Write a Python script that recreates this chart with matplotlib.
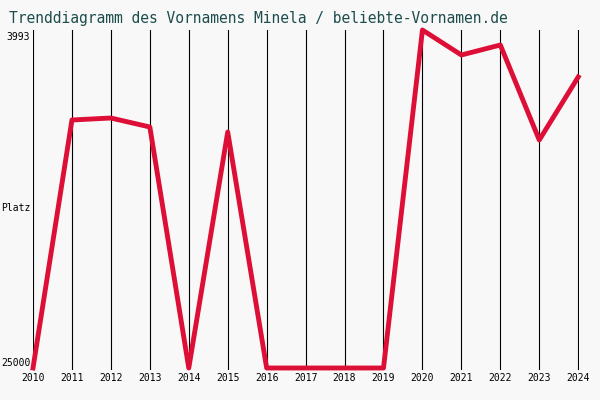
import matplotlib.pyplot as plt

years = list(range(2010, 2025))
ranks = [25000, 9019, 8891, 9470, 25000, 9793, 25000, 25000, 25000, 25000,
         3220, 4831, 4186, 10308, 6248]

plt.rcParams["font.family"] = "DejaVu Sans Mono"

fig = plt.figure(figsize=(6, 4), dpi=100, facecolor="#f8f8f8")
ax = fig.add_axes([0.055, 0.075, 0.91, 0.85])
ax.set_facecolor("#f8f8f8")

for yr in years:
    ax.axvline(yr, color="black", linewidth=0.8, zorder=1)

ax.plot(years, ranks, color="#dd0f37", linewidth=3.5, zorder=3, clip_on=False)

ax.set_xlim(2010, 2024.02)
ax.set_ylim(25129, 3220)
ax.set_yticks([3993, 25000])
ax.set_yticklabels(["3993", "25000"], fontsize=7)
for lbl in ax.get_yticklabels():
    lbl.set_va("bottom")
ax.set_xticks(years)
ax.set_xticklabels([str(y) for y in years], fontsize=7)
ax.tick_params(length=0, pad=2)
fig.text(0.002, 0.48, "Platz", fontsize=7, ha="left", va="center")
for s in ax.spines.values():
    s.set_visible(False)

fig.text(0.015, 0.955, "Trenddiagramm des Vornamens Minela / beliebte-Vornamen.de",
         fontsize=10.5, color="#1e4d4d", va="center")

fig.savefig("out.png", dpi=100, facecolor=fig.get_facecolor())
